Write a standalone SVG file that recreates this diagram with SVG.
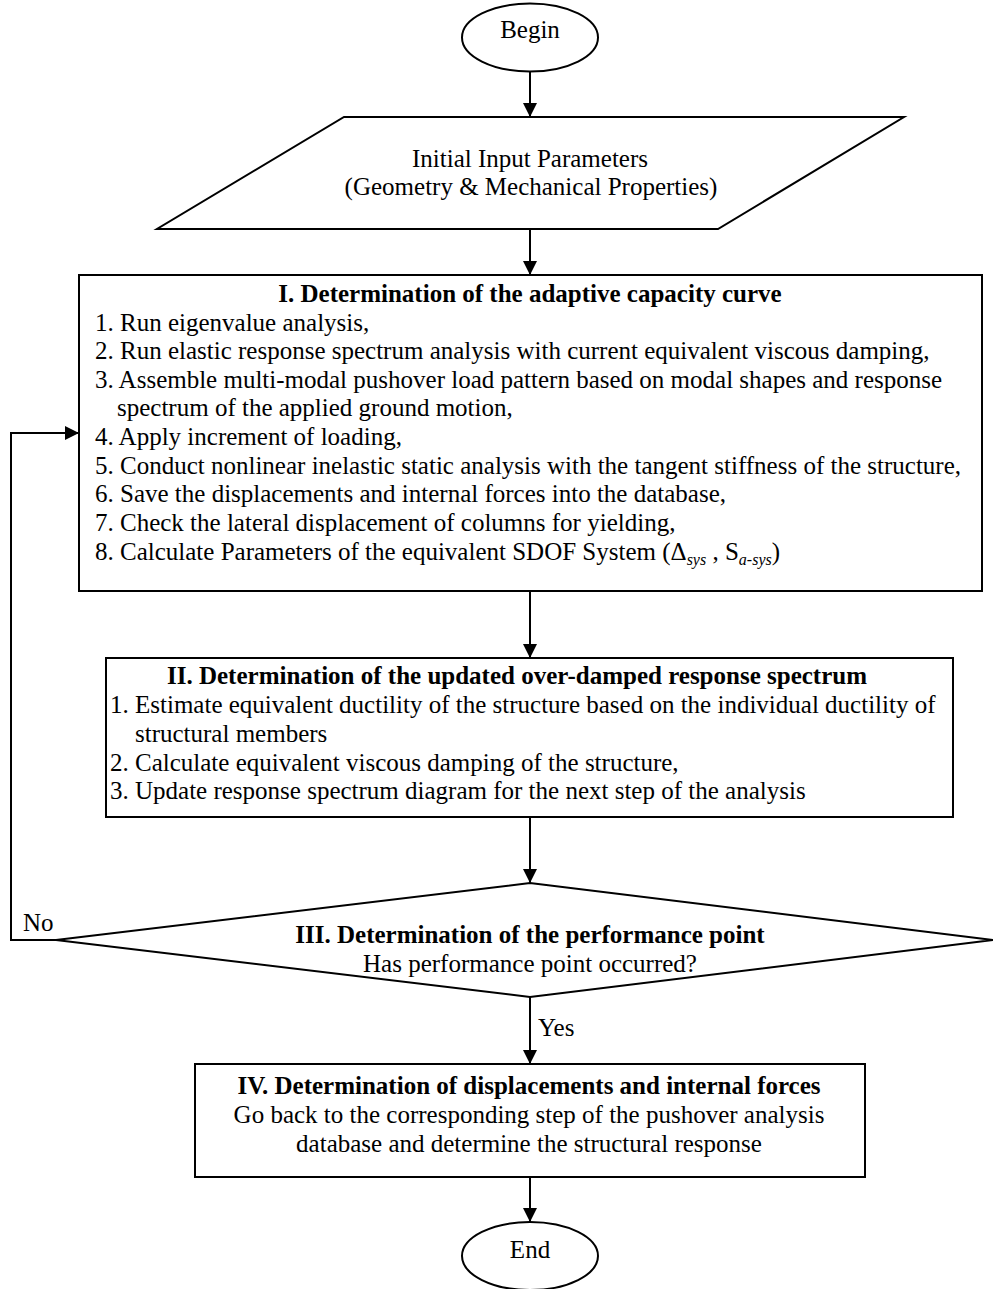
<svg xmlns="http://www.w3.org/2000/svg" width="993" height="1289" viewBox="0 0 993 1289">
<style>
.shape{fill:#fff;stroke:#000;stroke-width:2}
.t{font-family:"Liberation Serif","Times New Roman",serif;font-size:25px;fill:#000}
.b{font-weight:bold}
.c{text-anchor:middle}
.sub{font-style:italic;font-size:16px}
.edge{fill:none;stroke:#000;stroke-width:2}
</style>
<defs>
<marker id="arr" viewBox="0 0 14 14" refX="14" refY="7" markerWidth="14" markerHeight="14" markerUnits="userSpaceOnUse" orient="auto">
<path d="M0,0 L14,7 L0,14 Z" fill="#000"/>
</marker>
</defs>
<g id="connectors">
<line class="edge" x1="530" y1="72" x2="530" y2="117" marker-end="url(#arr)"/>
<line class="edge" x1="530" y1="229" x2="530" y2="275" marker-end="url(#arr)"/>
<line class="edge" x1="530" y1="591" x2="530" y2="658" marker-end="url(#arr)"/>
<line class="edge" x1="530" y1="817" x2="530" y2="883" marker-end="url(#arr)"/>
<line class="edge" x1="530" y1="997" x2="530" y2="1064" marker-end="url(#arr)"/>
<line class="edge" x1="530" y1="1177" x2="530" y2="1222" marker-end="url(#arr)"/>
<polyline class="edge" points="56,940 11,940 11,433 79,433" marker-end="url(#arr)"/>
<text class="t" x="23" y="931">No</text>
<text class="t" x="538" y="1036">Yes</text>
</g>
<g id="begin">
<ellipse class="shape" cx="530" cy="37.5" rx="68" ry="34"/>
<text class="t c" x="530" y="38">Begin</text>
</g>
<g id="input">
<polygon class="shape" points="344,117 904,117 718,229 157,229"/>
<text class="t c" x="530" y="167">Initial Input Parameters</text>
<text class="t c" x="531" y="195">(Geometry &amp; Mechanical Properties)</text>
</g>
<g id="step1">
<rect class="shape" x="79" y="275" width="903" height="316"/>
<text class="t b c" x="530" y="302">I. Determination of the adaptive capacity curve</text>
<text class="t" x="95" y="331">1. Run eigenvalue analysis,</text>
<text class="t" x="95" y="359">2. Run elastic response spectrum analysis with current equivalent viscous damping,</text>
<text class="t" x="95" y="388">3. Assemble multi-modal pushover load pattern based on modal shapes and response</text>
<text class="t" x="117" y="416">spectrum of the applied ground motion,</text>
<text class="t" x="95" y="445">4. Apply increment of loading,</text>
<text class="t" x="95" y="474">5. Conduct nonlinear inelastic static analysis with the tangent stiffness of the structure,</text>
<text class="t" x="95" y="502">6. Save the displacements and internal forces into the database,</text>
<text class="t" x="95" y="531">7. Check the lateral displacement of columns for yielding,</text>
<text class="t" x="95" y="560">8. Calculate Parameters of the equivalent SDOF System (Δ<tspan class="sub" dy="5">sys</tspan><tspan dy="-5"> , S</tspan><tspan class="sub" dy="5">a-sys</tspan><tspan dy="-5">)</tspan></text>
</g>
<g id="step2">
<rect class="shape" x="106" y="658" width="847" height="159"/>
<text class="t b c" x="517" y="684">II. Determination of the updated over-damped response spectrum</text>
<text class="t" x="110" y="713">1. Estimate equivalent ductility of the structure based on the individual ductility of</text>
<text class="t" x="135" y="742">structural members</text>
<text class="t" x="110" y="771">2. Calculate equivalent viscous damping of the structure,</text>
<text class="t" x="110" y="799">3. Update response spectrum diagram for the next step of the analysis</text>
</g>
<g id="step3">
<polygon class="shape" points="56,940 530,883 993,940 530,997"/>
<text class="t b c" x="530" y="943">III. Determination of the performance point</text>
<text class="t c" x="530" y="972">Has performance point occurred?</text>
</g>
<g id="step4">
<rect class="shape" x="195" y="1064" width="670" height="113"/>
<text class="t b c" x="529" y="1094">IV. Determination of displacements and internal forces</text>
<text class="t c" x="529" y="1123">Go back to the corresponding step of the pushover analysis</text>
<text class="t c" x="529" y="1152">database and determine the structural response</text>
</g>
<g id="end">
<ellipse class="shape" cx="530" cy="1256" rx="68" ry="34"/>
<text class="t c" x="530" y="1258">End</text>
</g>
</svg>
